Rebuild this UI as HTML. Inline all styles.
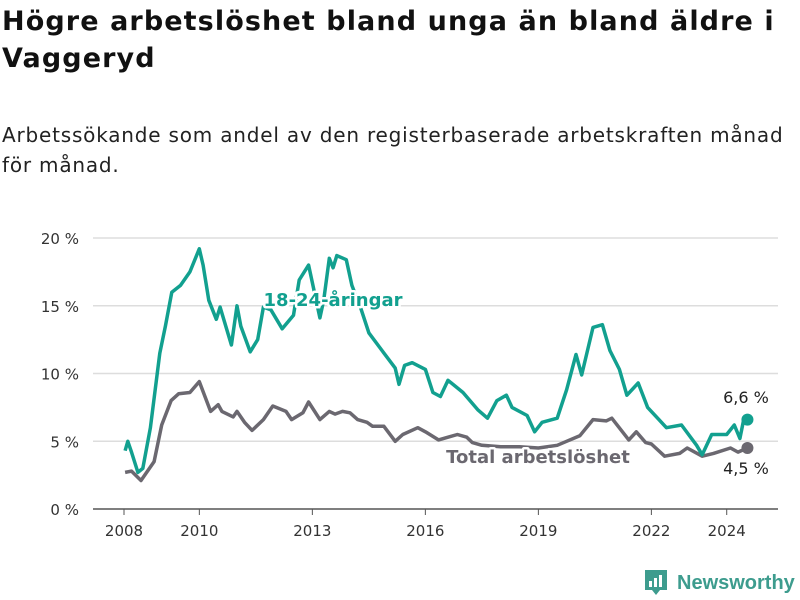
<!DOCTYPE html>
<html><head><meta charset="utf-8"><style>
body{margin:0;width:800px;height:600px;background:#fff;font-family:"DejaVu Sans","Liberation Sans",sans-serif;overflow:hidden;position:relative}
h1{position:absolute;left:2px;top:3px;margin:0;font-size:27px;line-height:37px;font-weight:bold;color:#111;width:798px;letter-spacing:1.1px}
p{position:absolute;left:2px;top:120px;margin:0;font-size:20px;line-height:30px;color:#222;width:790px;letter-spacing:0.8px}
svg{position:absolute;left:0;top:0}
</style></head><body>
<h1>Högre arbetslöshet bland unga än bland äldre i Vaggeryd</h1>
<p>Arbetssökande som andel av den registerbaserade arbetskraften månad för månad.</p>
<svg id="c" width="800" height="600"></svg>
<script>
const yTicks=[0,5,10,15,20];
const xTickYears=[2008,2010,2013,2016,2019,2022,2024];
const youthDates=[2008.03,2008.1,2008.2,2008.37,2008.5,2008.7,2008.95,2009.1,2009.27,2009.5,2009.75,2010.0,2010.1,2010.25,2010.45,2010.55,2010.85,2011.0,2011.1,2011.35,2011.55,2011.7,2011.9,2012.2,2012.5,2012.65,2012.9,2013.2,2013.3,2013.45,2013.55,2013.65,2013.9,2014.05,2014.3,2014.5,2014.85,2015.2,2015.3,2015.45,2015.65,2016.0,2016.2,2016.4,2016.6,2017.0,2017.4,2017.65,2017.9,2018.15,2018.3,2018.7,2018.9,2019.1,2019.5,2019.75,2020.0,2020.15,2020.45,2020.7,2020.9,2021.15,2021.35,2021.65,2021.9,2022.2,2022.4,2022.8,2023.2,2023.35,2023.6,2024.0,2024.2,2024.35,2024.45,2024.55];
const youthValues=[4.3,5.0,4.2,2.7,3.0,6.0,11.5,13.5,16.0,16.5,17.5,19.2,18.0,15.4,14.0,14.9,12.1,15.0,13.5,11.6,12.5,14.9,14.7,13.3,14.3,16.9,18.0,14.1,15.4,18.5,17.8,18.7,18.4,16.5,14.7,13.0,11.7,10.4,9.2,10.6,10.8,10.3,8.6,8.3,9.5,8.6,7.3,6.7,8.0,8.4,7.5,6.9,5.7,6.4,6.7,8.8,11.4,9.9,13.4,13.6,11.7,10.3,8.4,9.3,7.5,6.6,6.0,6.2,4.7,4.0,5.5,5.5,6.2,5.2,6.6,6.6];
const totalDates=[2008.03,2008.2,2008.45,2008.8,2009.0,2009.25,2009.45,2009.75,2010.0,2010.3,2010.5,2010.6,2010.9,2011.0,2011.2,2011.4,2011.7,2011.95,2012.3,2012.45,2012.75,2012.9,2013.2,2013.45,2013.6,2013.8,2014.0,2014.2,2014.45,2014.6,2014.9,2015.2,2015.4,2015.8,2016.0,2016.35,2016.6,2016.85,2017.1,2017.25,2017.5,2018.0,2018.5,2019.0,2019.5,2019.75,2020.1,2020.45,2020.8,2020.95,2021.4,2021.6,2021.85,2022.0,2022.35,2022.75,2022.95,2023.35,2023.65,2024.1,2024.3,2024.55];
const totalValues=[2.7,2.8,2.1,3.5,6.2,8.0,8.5,8.6,9.4,7.2,7.7,7.2,6.8,7.2,6.4,5.8,6.6,7.6,7.2,6.6,7.1,7.9,6.6,7.2,7.0,7.2,7.1,6.6,6.4,6.1,6.1,5.0,5.5,6.0,5.7,5.1,5.3,5.5,5.3,4.9,4.7,4.6,4.6,4.5,4.7,5.0,5.4,6.6,6.5,6.7,5.1,5.7,4.9,4.8,3.9,4.1,4.5,3.9,4.1,4.5,4.2,4.5];
const NS="http://www.w3.org/2000/svg";
const svg=document.getElementById('c');
const X=y=>124+(y-2008)*37.67;
const Y=v=>509-v*13.55;
function el(t,a,txt){const e=document.createElementNS(NS,t);for(const k in a)e.setAttribute(k,a[k]);if(txt!=null)e.textContent=txt;svg.appendChild(e);return e;}
yTicks.forEach(v=>{
 const g=el('line',{x1:93,x2:778,y1:Y(v),y2:Y(v),stroke:v===0?'#555':'#ddd','stroke-width':1.5});
 
 
 const t=el('text',{x:79,y:Y(v)+6,'text-anchor':'end','font-size':15,fill:'#333'},v+' %');
 
 
});
xTickYears.forEach(yr=>{
 const l=el('line',{x1:X(yr),x2:X(yr),y1:509,y2:515,stroke:'#555','stroke-width':1});
 
 
 const t=el('text',{x:X(yr),y:536,'text-anchor':'middle','font-size':15,fill:'#333'},yr);
 
 
});
function line(d,v,col,name){
 const p=el('path',{d:d.map((x,i)=>(i?'L':'M')+X(x).toFixed(1)+','+Y(v[i]).toFixed(1)).join(''),fill:'none',stroke:col,'stroke-width':3.5,'stroke-linejoin':'round'});
 
 
 const c=el('circle',{cx:X(d[d.length-1]),cy:Y(v[v.length-1]),r:6,fill:col});
 
 
}
line(totalDates,totalValues,'#6b6870','total-line');
line(youthDates,youthValues,'#12a08f','youth-line');
function lab(x,y,txt,col,name,bold,anchor){
 const a={x:x,y:y,'text-anchor':anchor||'middle','font-size':bold?18:16,'font-weight':bold?'bold':'normal',fill:col};
 if(bold){const h=el('text',Object.assign({},a,{stroke:'#fff','stroke-width':5,'stroke-linejoin':'round'}),txt);}
 const t=el('text',a,txt);
 
 
}
lab(333,306,'18-24-åringar','#12a08f','youth-series-label',true);
lab(538,463,'Total arbetslöshet','#6b6870','total-series-label',true);
lab(746,403,'6,6 %','#222','youth-end-value');
lab(746,474,'4,5 %','#222','total-end-value');
const lg=el('g',{transform:'translate(645,570)'});


lg.innerHTML='<path d="M0,0h22v20h-7l-4,5l-4,-5h-7z" fill="#3d9c8e"/><rect x="4" y="11" width="3" height="6" fill="#fff"/><rect x="9" y="8" width="3" height="9" fill="#fff"/><rect x="14" y="5" width="3" height="12" fill="#fff"/><text x="32" y="19" font-size="20" font-weight="bold" fill="#3d9c8e" font-family="Liberation Sans, sans-serif">Newsworthy</text>';
</script>
</body></html>
